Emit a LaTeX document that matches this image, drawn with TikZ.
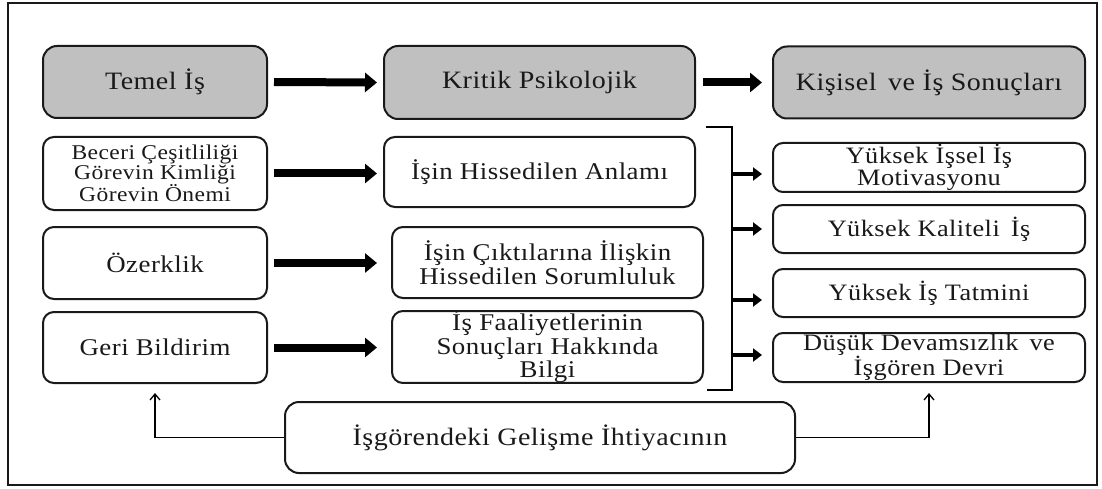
\documentclass[tikz,border=0pt]{standalone}
\usepackage{fontspec}
\setmainfont{Liberation Serif}[FakeStretch=1.12,LetterSpace=2]
\usetikzlibrary{arrows.meta}
\definecolor{headgray}{RGB}{192,192,192}
\definecolor{inkc}{RGB}{25,25,25}
\begin{document}
\begin{tikzpicture}[x=1pt,y=-1pt,
  box/.style={draw=inkc,line width=2pt,rounded corners=11pt,align=center,
    inner sep=0pt,text=inkc,font=\fontsize{24}{23.5}\selectfont},
  outbox/.style={box,minimum width=312pt,rounded corners=10pt,font=\fontsize{23.5}{22}\selectfont},
  headbox/.style={box,fill=headgray,rounded corners=14pt,font=\fontsize{25}{26}\selectfont},
  bigarrow/.style={draw=black,line width=8pt,-{Triangle[length=12pt,width=19pt]}},
  smallarrow/.style={draw=black,line width=4pt,-{Triangle[length=9pt,width=13pt]}},
  thinarrow/.style={draw=black,line width=1.3pt,-{Straight Barb[length=6pt,width=10pt]}},
  thinline/.style={draw=black,line width=1.5pt}]
\useasboundingbox (0,0) rectangle (1102,489);
% outer frame
\draw[line width=2.5pt,draw=inkc] (8,3) rectangle (1097,485);

% header row
\node[headbox,minimum width=224pt,minimum height=72pt] (temel) at (155,82) {Temel İş};
\node[headbox,minimum width=311pt,minimum height=73pt] (kritik) at (539.5,82.5) {Kritik Psikolojik};
\node[headbox,minimum width=312pt,minimum height=72pt] (sonuc) at (929,82.5) {Kişisel\, ve İş Sonuçları};

% job characteristics
\node[box,minimum width=224pt,minimum height=73pt,
  font=\fontsize{21}{19.5}\selectfont] (beceri) at (155,173.5)
  {Beceri Çeşitliliği\\Görevin Kimliği\\Görevin Önemi};
\node[box,minimum width=224pt,minimum height=72pt] (ozerk) at (155,263) {Özerklik};
\node[box,minimum width=224pt,minimum height=71pt] (geri) at (155,347.5) {Geri Bildirim};

% critical psychological states
\node[box,minimum width=311pt,minimum height=70pt] (anlam) at (539.5,172) {İşin Hissedilen Anlamı};
\node[box,minimum width=311pt,minimum height=71pt] (sorum) at (547.5,262.5) {İşin Çıktılarına İlişkin\\Hissedilen Sorumluluk};
\node[box,minimum width=311pt,minimum height=70pt] (bilgi) at (547.5,347) {İş Faaliyetlerinin\\Sonuçları Hakkında\\Bilgi};

% outcomes
\node[outbox,minimum height=49pt] (motiv) at (929,167.5) {Yüksek İşsel İş\\Motivasyonu};
\node[outbox,minimum height=48pt] (kalite) at (929,229) {Yüksek Kaliteli\, İş};
\node[outbox,minimum height=48pt] (tatmin) at (929,293) {Yüksek İş Tatmini};
\node[outbox,minimum height=49pt] (devam) at (929,357.5) {Düşük Devamsızlık\, ve\\İşgören Devri};

% growth need strength
\node[box,minimum width=510pt,minimum height=71pt,rounded corners=14pt,font=\fontsize{25}{26}\selectfont] (gelisme) at (540,437.5) {İşgörendeki Gelişme İhtiyacının};

% header arrows
\draw[bigarrow] ([xshift=6pt]temel.east) -- ([xshift=-6pt]kritik.west);
\draw[bigarrow] ([xshift=7pt]kritik.east) -- ([xshift=-10pt]sonuc.west);

% row arrows
\draw[bigarrow] ([xshift=6pt]beceri.east) -- ([xshift=-6pt]anlam.west |- beceri.east);
\draw[bigarrow] ([xshift=6pt]ozerk.east) -- ([xshift=-14pt]sorum.west |- ozerk.east);
\draw[bigarrow] ([xshift=6pt]geri.east) -- ([xshift=-14pt]bilgi.west |- geri.east);

% bracket gathering the psychological states
\coordinate (brtop) at (706,127);
\coordinate (brbot) at (707,390);
\coordinate (br1) at (732,174);
\coordinate (br2) at (732,229);
\coordinate (br3) at (732,300);
\coordinate (br4) at (732,355);
\draw[thinline] (brtop) -- (732,127) -- (732,390) -- (brbot);

\draw[smallarrow] (br1) -- ([xshift=-10pt]br1 -| motiv.west);
\draw[smallarrow] (br2) -- ([xshift=-10pt]br2 -| kalite.west);
\draw[smallarrow] (br3) -- ([xshift=-10pt]br3 -| tatmin.west);
\draw[smallarrow] (br4) -- ([xshift=-10pt]br4 -| devam.west);

% moderator lines
\draw[thinarrow] (gelisme.west) -| ([yshift=-9pt]geri.south);
\draw[thinarrow] (gelisme.east) -| ([yshift=-10pt]devam.south);
\end{tikzpicture}
\end{document}
